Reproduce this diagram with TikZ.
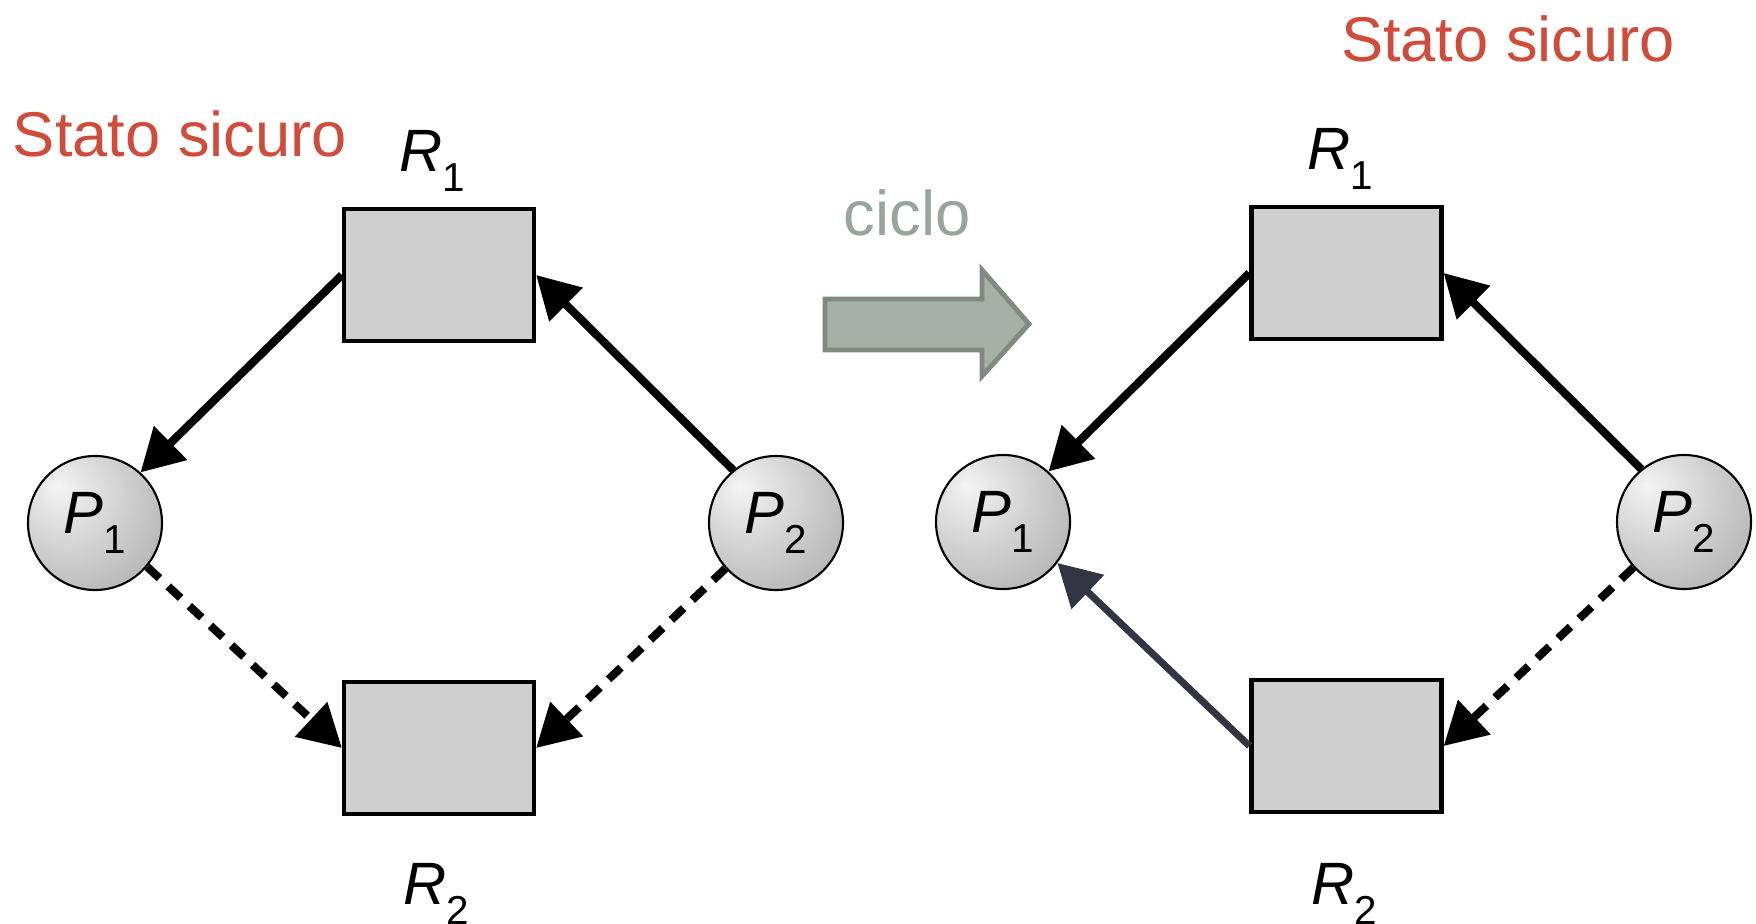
\documentclass[tikz,border=0pt]{standalone}
\usepackage{fontspec}
\setmainfont{Liberation Sans}
\usepackage{tikz}
\usetikzlibrary{arrows.meta}
\usetikzlibrary{shapes}

\definecolor{titlered}{RGB}{209,75,58}
\definecolor{ciclogray}{RGB}{150,166,156}
\definecolor{arrowfill}{RGB}{166,175,168}
\definecolor{arrowline}{RGB}{127,138,128}
\definecolor{resgray}{RGB}{207,207,207}
\definecolor{navy}{RGB}{52,53,68}

\pgfdeclareradialshading{procball}{\pgfpoint{-14bp}{14bp}}{color(0bp)=(gray!8); color(10bp)=(gray!22); color(30bp)=(gray!48); color(50bp)=(gray!72); color(66bp)=(gray!95); color(80bp)=(gray)}

\newcommand{\sublab}[2]{\textit{#1}\raisebox{-5.7pt}{\fontsize{11.5}{11.5}\selectfont #2}}

\tikzset{
  res/.style={draw=black, line width=1.2pt, fill=resgray, minimum width=1.9cm, minimum height=1.32cm, inner sep=0pt},
  proc/.style={circle, draw=black, line width=0.6pt, shading=procball, minimum size=1.34cm, inner sep=0pt, font=\fontsize{17}{17}\selectfont},
  lab/.style={font=\fontsize{17}{17}\selectfont},
  title/.style={text=titlered, font=\fontsize{18}{18}\selectfont},
  assign/.style={line width=2.3pt, -{Triangle[length=12pt,width=13pt]}},
  claim/.style={assign, dash pattern=on 4.8pt off 3.4pt}
}

\begin{document}
\begin{tikzpicture}
\useasboundingbox (0,0) rectangle (17.56,9.23);

% left: safe state
\node[title] (lstate) at (1.80,7.89) {Stato sicuro};
\node[res] (lR1) at (4.39,6.48) {};
\node[res] (lR2) at (4.39,1.75) {};
\node[proc] (lP1) at (0.95,4.00) {\sublab{P}{1}};
\node[proc] (lP2) at (7.76,4.00) {\sublab{P}{2}};
\node[lab] (lR1lab) at (4.32,7.62) {\sublab{R}{1}};
\node[lab] (lR2lab) at (4.36,0.29) {\sublab{R}{2}};
\draw[assign] (lR1.west) -- (lP1.48);
\draw[assign] (lP2.129) -- (lR1.east);
\draw[claim] (lP1.-40) -- (lR2.west);
\draw[claim] (lP2.222) -- (lR2.east);

% big arrow
\node[text=ciclogray, font=\fontsize{18}{18}\selectfont] (ciclo) at (9.07,7.10) {ciclo};
\draw[line width=1.4pt, draw=arrowline, fill=arrowfill, line join=miter]
  (8.25,6.24) -- (9.82,6.24) -- (9.82,6.53) -- (10.29,5.99)
  -- (9.82,5.47) -- (9.82,5.73) -- (8.25,5.73) -- cycle;

% right: safe state
\node[title] (rstate) at (15.08,8.84) {Stato sicuro};
\node[res] (rR1) at (13.465,6.50) {};
\node[res] (rR2) at (13.465,1.77) {};
\node[proc] (rP1) at (10.03,4.01) {\sublab{P}{1}};
\node[proc] (rP2) at (16.84,4.01) {\sublab{P}{2}};
\node[lab] (rR1lab) at (13.40,7.64) {\sublab{R}{1}};
\node[lab] (rR2lab) at (13.44,0.29) {\sublab{R}{2}};
\draw[assign] (rR1.west) -- (rP1.48);
\draw[assign] (rP2.129) -- (rR1.east);
\draw[assign, line width=2pt, draw=navy, fill=navy] (rR2.west) -- (rP1.-37);
\draw[claim] (rP2.222) -- (rR2.east);
\end{tikzpicture}
\end{document}
